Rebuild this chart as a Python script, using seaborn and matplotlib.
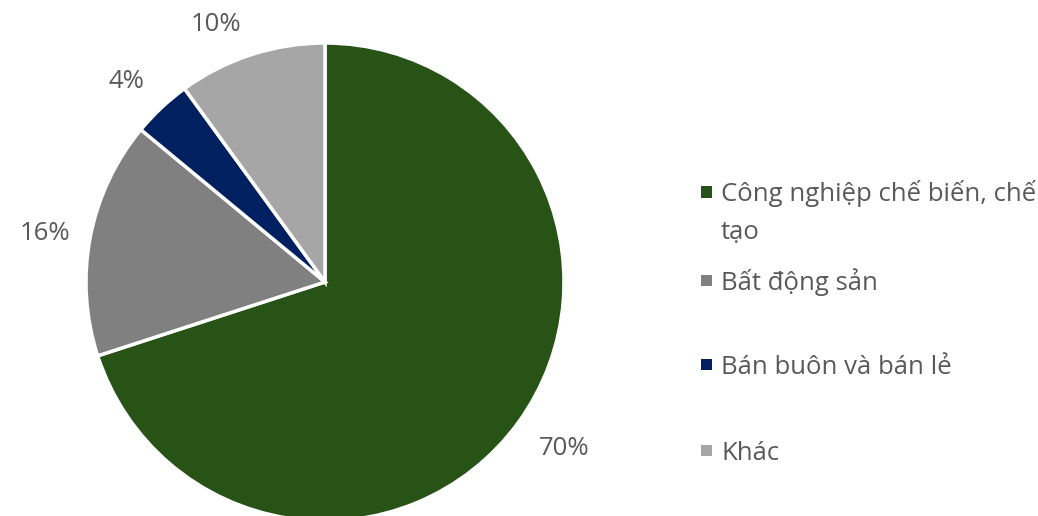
import matplotlib
matplotlib.use("Agg")
import matplotlib.pyplot as plt
from matplotlib.patches import Rectangle
import numpy as np
import seaborn as sns

# Loan structure by sector (%)
categories = ["Công nghiệp chế biến, chế\ntạo", "Bất động sản", "Bán buôn và bán lẻ", "Khác"]
shares = [70, 16, 4, 10]
palette = ["#275317", "#808080", "#002060", "#A6A6A6"]

# label placement around the pie: radial distance and angular nudge (deg)
label_dist = [1.22, 1.19, 1.18, 1.17]
label_nudge = [1.2, 1.0, 1.5, 4.9]

sns.set_theme(style="white")
plt.rcParams["font.family"] = ["Open Sans", "DejaVu Sans"]
TEXT = "#595959"
FS = 18.5
LINE_STEP = 38  # px between wrapped legend lines

W, H = 1038, 516
fig = plt.figure(figsize=(W / 100, H / 100), dpi=100)
fig.patch.set_facecolor("white")

# pie centred at (325, 282) px with a 239 px radius
cx, cy, r = 325, 282, 239
ax = fig.add_axes([(cx - r) / W, (H - cy - r) / H, 2 * r / W, 2 * r / H])

wedges, texts, autotexts = ax.pie(
    shares,
    colors=sns.color_palette(palette),
    startangle=90,
    counterclock=False,
    autopct="%.0f%%",
    pctdistance=1.2,
    wedgeprops=dict(edgecolor="white", linewidth=2.5),
    textprops=dict(color=TEXT, fontsize=FS),
)
for w, t, d, nudge in zip(wedges, autotexts, label_dist, label_nudge):
    mid = np.deg2rad((w.theta1 + w.theta2) / 2 + nudge)
    t.set_position((d * np.cos(mid), d * np.sin(mid)))

ax.set_xlim(-1, 1)
ax.set_ylim(-1, 1)
ax.set_aspect("equal")
ax.axis("off")

# legend: square markers with labels on the right (rows = marker centres, px)
to_fig = lambda x, y: (x / W, 1 - y / H)
rows = [192, 280.5, 364.5, 450.5]
for label, color, y in zip(categories, palette, rows):
    sx, sy = to_fig(701, y + 5.5)
    fig.patches.append(Rectangle((sx, sy), 11 / W, 11 / H, transform=fig.transFigure,
                                 facecolor=color, edgecolor="none"))
    # baseline anchor refers to the last line of a wrapped label
    extra = label.count("\n") * LINE_STEP
    tx, ty = to_fig(721, y + 9.5 + extra)
    fig.text(tx, ty, label, color=TEXT, fontsize=FS, ha="left", va="baseline",
             linespacing=1.71)

fig.savefig("out.png", dpi=100, facecolor="white")
